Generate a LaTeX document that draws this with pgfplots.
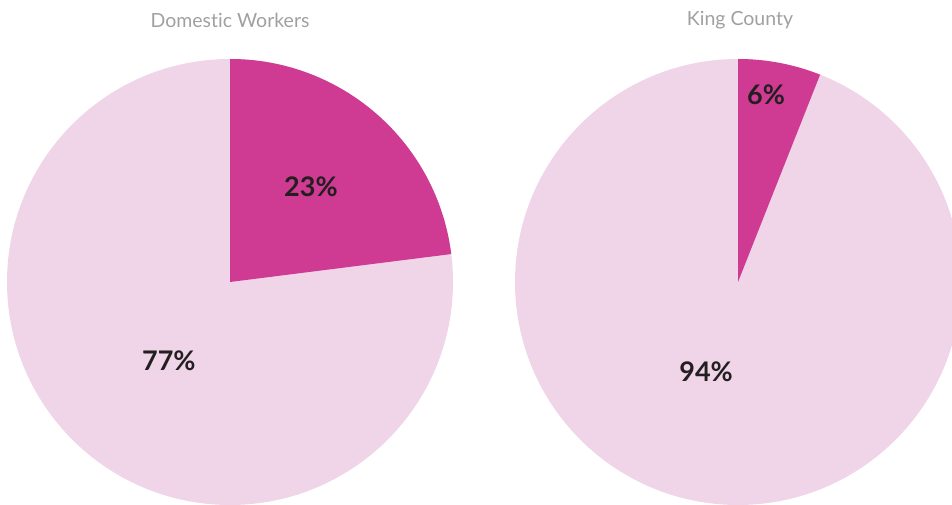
\documentclass[border=0pt]{standalone}
\usepackage{pgfplots}
\pgfplotsset{compat=1.18}
\usepackage{pgfplotstable}
\usepackage{fontspec}
\setmainfont{Lato}[Ligatures={NoCommon,NoRare,NoDiscretionary}]

\definecolor{piedark}{HTML}{CF3A93}
\definecolor{pielight}{HTML}{F0D5E9}
\definecolor{labeltext}{HTML}{231F20}
\definecolor{titlegray}{HTML}{A0A0A0}

% share of each group (percent), first row = highlighted slice
\pgfplotstableread{
share
23
77
}\dwdata
\pgfplotstableread{
share
6
94
}\kcdata

\pgfplotsset{
  pieaxis/.style={
    hide axis, scale only axis,
    width=446pt, height=446pt,
    xmin=-1, xmax=1, ymin=-1, ymax=1,
    anchor=south west, clip=false,
  },
}
\newcommand{\slicelabel}[1]{\fontsize{27}{30}\selectfont\bfseries\color{labeltext}#1\%}

\begin{document}
\begin{tikzpicture}
\useasboundingbox (0,0) rectangle (952pt,505pt);

% Domestic Workers
\pgfplotstablegetelem{0}{share}\of\dwdata \let\dwA\pgfplotsretval
\pgfplotstablegetelem{1}{share}\of\dwdata \let\dwB\pgfplotsretval
\begin{axis}[pieaxis, at={(7pt,0pt)}]
  \fill[pielight] (axis cs:0,0) circle[radius=1];
  \fill[piedark] (axis cs:0,0) -- (axis cs:0,1)
    arc[start angle=90, end angle={90-3.6*\dwA}, radius=1] -- cycle;
  \node at (axis cs:0.363,0.426) {\slicelabel{\dwA}};
  \node at (axis cs:-0.274,-0.354) {\slicelabel{\dwB}};
\end{axis}

% King County
\pgfplotstablegetelem{0}{share}\of\kcdata \let\kcA\pgfplotsretval
\pgfplotstablegetelem{1}{share}\of\kcdata \let\kcB\pgfplotsretval
\begin{axis}[pieaxis, at={(515pt,0pt)}]
  \fill[pielight] (axis cs:0,0) circle[radius=1];
  \fill[piedark] (axis cs:0,0) -- (axis cs:0,1)
    arc[start angle=90, end angle={90-3.6*\kcA}, radius=1] -- cycle;
  \node at (axis cs:0.126,0.839) {\slicelabel{\kcA}};
  \node at (axis cs:-0.143,-0.404) {\slicelabel{\kcB}};
\end{axis}

\node[text=titlegray, font=\fontsize{19.5}{22}\selectfont] at (230pt,485pt) {Domestic Workers};
\node[text=titlegray, font=\fontsize{19.5}{22}\selectfont] at (740pt,485pt) {King County};
\end{tikzpicture}
\end{document}
